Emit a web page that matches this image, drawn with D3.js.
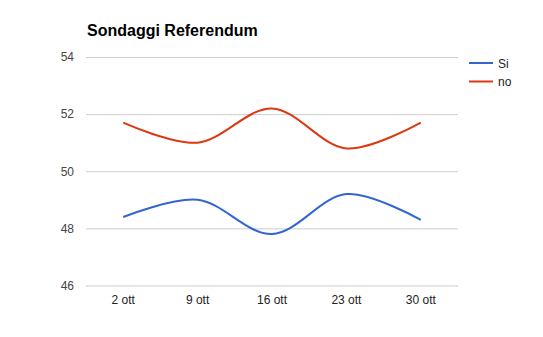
<!DOCTYPE html>
<html><head><meta charset="utf-8">
<script src="https://cdn.jsdelivr.net/npm/d3@7"></script>
<style>body{margin:0;background:#fff}svg{display:block}text{font-family:Arial,"Liberation Sans",sans-serif}</style>
</head><body>
<svg id="c" width="543" height="337"></svg>
<script>
const categories = ["2 ott","9 ott","16 ott","23 ott","30 ott"];
const seriesNames = ["Si","no"];
const siValues = [48.4, 49.0, 47.8, 49.2, 48.3];
const noValues = [51.7, 51.0, 52.2, 50.8, 51.7];
const yTicks = [46, 48, 50, 52, 54];
const colors = ["#3366cc", "#dc3912"];

(function(){
const svg = d3.select("#c");
const pl = 86, pr = 458, pt = 57, pb = 285.5;
const x = d3.scaleBand().domain(categories).range([pl, pr]);
const y = d3.scaleLinear().domain([46, 54]).range([pb, pt]);

svg.append("text").attr("x", 87).attr("y", 36).attr("font-size", 16).attr("font-weight", "bold").attr("fill", "#000").text("Sondaggi Referendum");

const yAxis = svg.append("g").attr("transform", `translate(${pl},0)`)
  .call(d3.axisLeft(y).tickValues(yTicks).tickSize(-(pr-pl)).tickPadding(12).tickFormat(d3.format("d")));
yAxis.select(".domain").remove();
yAxis.selectAll("line").attr("stroke", "#cccccc");
yAxis.selectAll("text").attr("font-size", 12).attr("fill", "#444").attr("font-family", "Arial, 'Liberation Sans', sans-serif");

const xAxis = svg.append("g").attr("transform", `translate(0,${pb})`)
  .call(d3.axisBottom(x).tickSize(0).tickPadding(10));
xAxis.select(".domain").remove();
xAxis.selectAll("text").attr("font-size", 12).attr("fill", "#222").attr("font-family", "Arial, 'Liberation Sans', sans-serif");

const line = d3.line().x((d,i) => x(categories[i]) + x.bandwidth()/2).y(d => y(d)).curve(d3.curveCatmullRom.alpha(0.5));
[siValues, noValues].forEach((vals, k) => {
  svg.append("path").datum(vals).attr("d", line).attr("fill", "none").attr("stroke", colors[k]).attr("stroke-width", 2);
});

const leg = svg.append("g");
seriesNames.forEach((n, k) => {
  const ly = 63 + k*18.5;
  leg.append("line").attr("x1", 469).attr("x2", 493).attr("y1", ly).attr("y2", ly).attr("stroke", colors[k]).attr("stroke-width", 2);
  leg.append("text").attr("x", 498).attr("y", ly + 4.5).attr("font-size", 12).attr("fill", "#222").text(n);
});
})();
</script>
</body></html>
